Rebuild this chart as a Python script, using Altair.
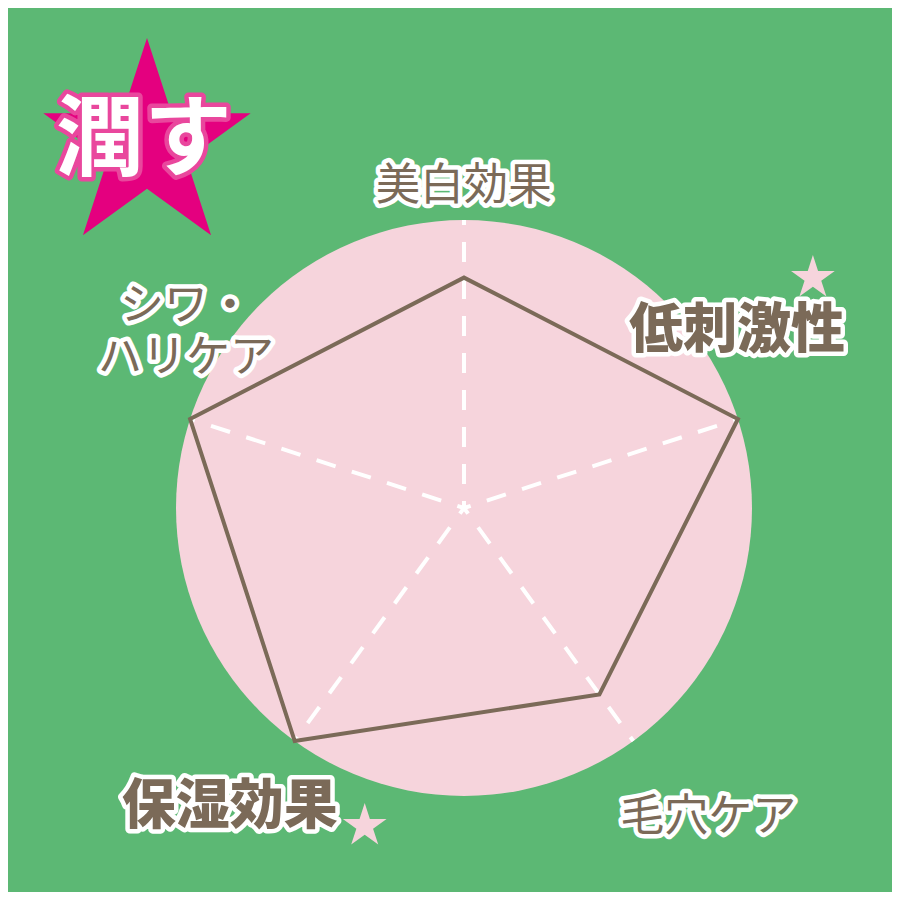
import math
import altair as alt
import pandas as pd

# ---- data ----
categories = ["美白効果", "低刺激性", "毛穴ケア", "保湿効果", "シワ・ハリケア"]
labels = ["美白効果", "低刺激性", "毛穴ケア", "保湿効果", "シワ・\nハリケア"]
values = [4, 5, 4, 5, 5]
max_value = 5
highlight = [False, True, False, True, False]
badge_text = "潤す"

# ---- styles ----
GREEN = "#5cb874"
PINK = "#f6d4dc"
BROWN = "#7b6a58"
MAGENTA = "#e4007f"
BADGE_OUTLINE = "#e9479d"
FONT = "Noto Sans CJK JP"

W = H = 884
CX, CY = 456, 500
R = 288
unit = R / max_value
xs = alt.Scale(domain=[-CX / unit, (W - CX) / unit], nice=False, zero=False)
ys = alt.Scale(domain=[-(H - CY) / unit, CY / unit], nice=False, zero=False)


def X(f):
    return alt.X(f, type="quantitative", scale=xs, axis=None)


def Y(f):
    return alt.Y(f, type="quantitative", scale=ys, axis=None)


def star_path(inner=0.381966):
    pts = []
    for k in range(10):
        r = 1.0 if k % 2 == 0 else inner
        a = math.radians(-90 + 36 * k)
        pts.append(f"{r * math.cos(a):.4f},{r * math.sin(a):.4f}")
    return "M" + " L".join(pts) + " Z"


STAR = star_path()

df = pd.DataFrame({
    "category": categories,
    "label": labels,
    "value": values,
    "idx": list(range(len(categories))),
    "max": [max_value] * len(categories),
    "highlight": highlight,
})

base = alt.Chart(df).transform_calculate(
    ang="PI/2 - 2*PI*datum.idx/5",
    px="datum.value*cos(datum.ang)",
    py="datum.value*sin(datum.ang)",
    ex="datum.max*cos(datum.ang)",
    ey="datum.max*sin(datum.ang)",
    zero="0",
)

# Vega symbol size: radius = sqrt(size)/2
circle = alt.Chart(pd.DataFrame({"cx": [0], "cy": [0]})).mark_circle(
    size=(2 * R) ** 2, color=PINK, opacity=1
).encode(x=X("cx"), y=Y("cy"))

spokes = base.mark_rule(
    color="white", strokeWidth=4, strokeDash=[20, 17], strokeDashOffset=13
).encode(x=X("zero"), y=Y("zero"), x2=alt.X2("ex:Q"), y2=alt.Y2("ey:Q"))

polygon = base.mark_line(
    interpolate="linear-closed", color=BROWN, strokeWidth=4, strokeJoin="miter"
).encode(x=X("px"), y=Y("py"), order=alt.Order("idx:Q"))

# label placement offsets relative to each axis end
label_style = {
    0: dict(dx=0, dy=-33, size=44, weight="normal"),
    1: dict(dx=-1, dy=-87, size=54, weight=900),
    2: dict(dx=75, dy=77, size=44, weight="normal"),
    3: dict(dx=-65, dy=67, size=54, weight=900),
    4: dict(dx=-4, dy=-112, size=44, weight="normal"),
}
star_offsets = {1: (75, -141), 3: (70, 85)}

layers = [circle, spokes, polygon]

for i, st in label_style.items():
    sub = base.transform_filter(f"datum.idx == {i}")
    common = dict(
        dx=st["dx"], dy=st["dy"], fontSize=st["size"], fontWeight=st["weight"],
        font=FONT, align="center", baseline="middle", lineBreak="\n", lineHeight=52,
    )
    under = sub.mark_text(
        fill="white", stroke="white", strokeWidth=9, strokeJoin="round", **common
    ).encode(x=X("ex"), y=Y("ey"), text="label:N")
    over = sub.mark_text(fill=BROWN, **common).encode(
        x=X("ex"), y=Y("ey"), text="label:N"
    )
    layers += [under, over]
    if i in star_offsets:
        sdx, sdy = star_offsets[i]
        s = sub.transform_filter("datum.highlight").mark_point(
            shape=STAR, size=(2 * 23) ** 2, filled=True, fill=PINK, opacity=1,
            strokeWidth=0, xOffset=sdx, yOffset=sdy,
        ).encode(x=X("ex"), y=Y("ey"))
        layers.append(s)

badge_df = pd.DataFrame({"text": [badge_text]})
badge_star = alt.Chart(badge_df).mark_point(
    shape=STAR, size=(2 * 109) ** 2, filled=True, fill=MAGENTA, opacity=1, strokeWidth=0
).encode(x=alt.value(139), y=alt.value(139))
badge_under = alt.Chart(badge_df).mark_text(
    font=FONT, fontWeight="bold", fontSize=88, fill="white", stroke=BADGE_OUTLINE,
    strokeWidth=9, strokeJoin="round", align="center", baseline="middle",
).encode(x=alt.value(136), y=alt.value(134), text="text:N")
badge_over = alt.Chart(badge_df).mark_text(
    font=FONT, fontWeight="bold", fontSize=88, fill="white",
    align="center", baseline="middle",
).encode(x=alt.value(136), y=alt.value(134), text="text:N")
layers += [badge_star, badge_under, badge_over]

chart = alt.layer(*layers).properties(
    width=W, height=H, padding=0, autosize="none", background=GREEN
).configure_view(stroke=None)

chart.save("out.html", embed_options={"renderer": "svg", "actions": False})
